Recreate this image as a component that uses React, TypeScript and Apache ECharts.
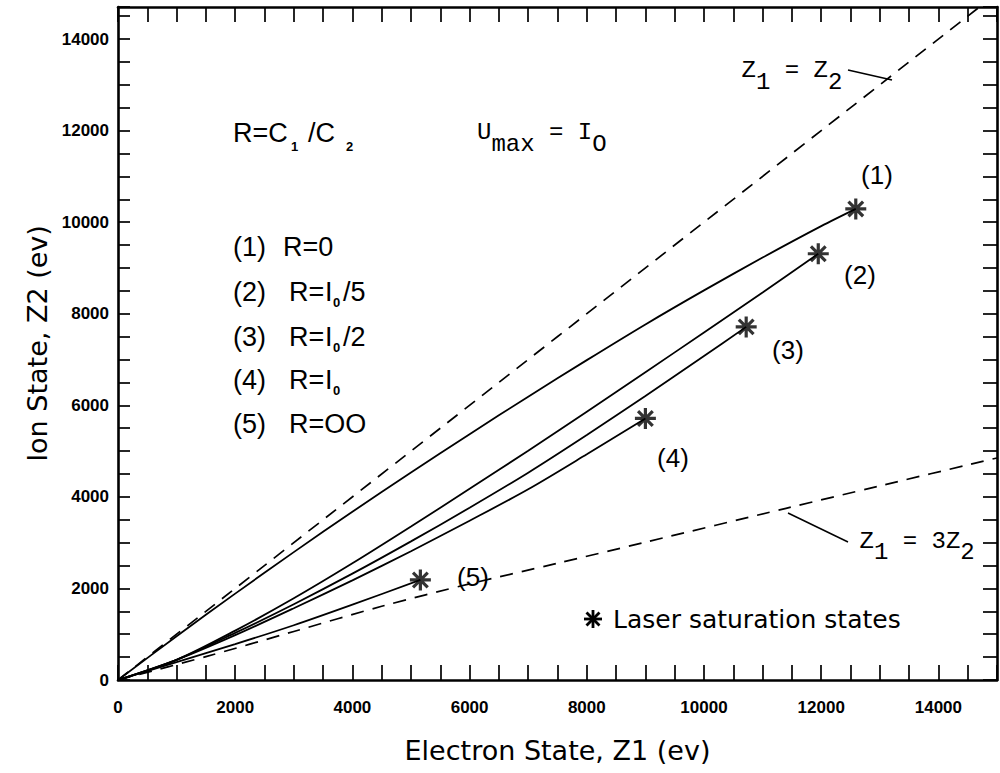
import React, { useEffect, useRef } from "react";
import * as echarts from "echarts";

// ---------- data ----------
const X_MAX = 15000;
const Y_MAX = 14700;
const TICK_STEP = 500;
const LABEL_STEP = 2000;

// Z1 = Z2 reference line
const lineZ1eqZ2 = [
  [0, 0],
  [15000, 15000],
];
// Z1 = 3 Z2 reference curve (as drawn)
const lineZ1eq3Z2 = [
  [0, 0],
  [1500, 510],
  [3000, 1060],
  [4500, 1610],
  [6000, 2100],
  [7500, 2550],
  [9000, 3010],
  [11400, 3750],
  [13000, 4240],
  [15000, 4850],
];
// (1) R=0
const curve1 = [
  [0, 0], [1000, 956], [2000, 1887], [3000, 2793], [4000, 3675], [5000, 4533],
  [6000, 5370], [7000, 6189], [8000, 6987], [9000, 7767], [10000, 8511],
  [11000, 9227], [12000, 9913], [12590, 10290],
];
// (2) R=I0/5
const curve2 = [
  [0, 0], [1000, 441], [2000, 1078], [3000, 1784], [4000, 2548], [5000, 3352],
  [6000, 4175], [7000, 5008], [8000, 5860], [9000, 6723], [10000, 7590],
  [11000, 8462], [11950, 9310],
];
// (3) R=I0/2
const curve3 = [
  [0, 0], [1000, 441], [2000, 1029], [3000, 1656], [4000, 2323], [5000, 3028],
  [6000, 3763], [7000, 4528], [8000, 5351], [9000, 6203], [10000, 7076],
  [10720, 7713],
];
// (4) R=I0
const curve4 = [
  [0, 0], [1000, 441], [2000, 980], [3000, 1568], [4000, 2176], [5000, 2813],
  [6000, 3479], [7000, 4165], [8000, 4929], [9000, 5713],
];
// (5) R=OO
const curve5 = [
  [0, 0], [1000, 392], [2000, 784], [3000, 1196], [4000, 1646], [5160, 2185],
];
// laser saturation states (end points)
const saturationStates = [
  [12590, 10290],
  [11950, 9310],
  [10720, 7713],
  [9000, 5713],
  [5160, 2185],
];
const curveTags = ["(1)", "(2)", "(3)", "(4)", "(5)"];
const legendRatios = ["R=0", "R=", "R=", "R=", "R=OO"];
const legendI = ["", "I", "I", "I", ""];
const legendSubs = ["", "0", "0", "0", ""];
const legendTails = ["", "/5", "/2", "", ""];
const xAxisTitle = "Electron State, Z1 (ev)";
const yAxisTitle = "Ion State, Z2 (ev)";
const legendText = "Laser saturation states";

// ---------- styles ----------
const SANS = '"Liberation Sans", Arial, sans-serif';
const DEJAVU = '"DejaVu Sans", sans-serif';
const MONO = '"Liberation Mono", "DejaVu Sans Mono", monospace';
const BLACK = "#000";

function txt(x: number, y: number, text: string, o: any = {}) {
  const align = o.align || "left";
  return {
    type: "text",
    x,
    y,
    silent: true,
    style: {
      text,
      fill: BLACK,
      fontFamily: o.family || SANS,
      fontSize: o.size || 27,
      fontWeight: o.weight || "normal",
      align,
      textAlign: align,
      verticalAlign: "middle",
      textVerticalAlign: "middle",
    },
  };
}

function star(cx: number, cy: number, r: number) {
  const d = r * 0.72;
  const ls = { stroke: BLACK, lineWidth: 2.8 };
  return {
    type: "group",
    silent: true,
    children: [
      { type: "line", shape: { x1: cx, y1: cy - r, x2: cx, y2: cy + r }, style: ls },
      { type: "line", shape: { x1: cx - r, y1: cy, x2: cx + r, y2: cy }, style: ls },
      { type: "line", shape: { x1: cx - d, y1: cy - d, x2: cx + d, y2: cy + d }, style: ls },
      { type: "line", shape: { x1: cx - d, y1: cy + d, x2: cx + d, y2: cy - d }, style: ls },
    ],
  };
}

// monospaced label with some characters lowered (subscripts)
function monoLabel(startX: number, y: number, chars: string[], lowered: boolean[], adv: number, drop: number) {
  const out: any[] = [];
  chars.forEach((c, i) => {
    if (c === " ") return;
    out.push(
      txt(startX + (i + 0.5) * adv, lowered[i] ? y + drop : y, c, {
        family: MONO,
        size: 24,
        align: "center",
      })
    );
  });
  return out;
}

export default function App() {
  const ref = useRef<HTMLDivElement>(null);

  useEffect(() => {
    if (!ref.current) return;
    const chart = echarts.init(ref.current, undefined, { renderer: "svg" });

    const labelFmt = (v: number) => (v % LABEL_STEP === 0 ? String(v) : "");
    const axisLine = { show: true, onZero: false, lineStyle: { color: BLACK, width: 2.6 } };
    const tickStyle = { color: BLACK, width: 1.7 };
    const axisLabel = {
      color: BLACK,
      fontFamily: SANS,
      fontWeight: "bold",
      fontSize: 17,
      formatter: labelFmt,
    };
    const nameStyle = { color: BLACK, fontFamily: DEJAVU, fontSize: 27 };

    const solid = (data: number[][]) => ({
      type: "line",
      data,
      showSymbol: false,
      smooth: 0.3,
      lineStyle: { color: BLACK, width: 1.8 },
      z: 3,
    });
    const dashed = (data: number[][]) => ({
      type: "line",
      data,
      showSymbol: false,
      smooth: 0.3,
      clip: true,
      lineStyle: { color: BLACK, width: 1.7, type: [13, 9] },
      z: 2,
    });

    const graphics: any[] = [];
    // R=C1/C2
    graphics.push(txt(233, 133, "R=C"));
    graphics.push(txt(291, 146, "1", { size: 13, weight: "bold" }));
    graphics.push(txt(308, 133, "/C"));
    graphics.push(txt(346, 146, "2", { size: 13, weight: "bold" }));
    // Umax = Io
    graphics.push(
      ...monoLabel(477, 132, ["U", "m", "a", "x", " ", "=", " ", "I", "O"],
        [false, true, true, true, false, false, false, false, true], 14.4, 12)
    );
    // legend list
    const legendY = [247, 292, 337, 380, 424];
    legendY.forEach((y, i) => {
      graphics.push(txt(233, y, curveTags[i]));
      graphics.push(txt(i === 0 ? 283 : 289, y, legendRatios[i]));
      if (legendI[i]) graphics.push(txt(325, y, legendI[i]));
      if (legendSubs[i]) graphics.push(txt(333, y + 10, legendSubs[i], { size: 13, weight: "bold" }));
      if (legendTails[i]) graphics.push(txt(343, y, legendTails[i]));
    });
    // curve tags
    const tagPos = [
      [877, 175],
      [860, 275],
      [788, 350],
      [673, 458],
      [473, 577],
    ];
    tagPos.forEach((p, i) => graphics.push(txt(p[0], p[1], curveTags[i], { align: "center", size: 26 })));
    // Z1 = Z2
    graphics.push(
      ...monoLabel(792 - 3.5 * 14.4, 70, ["Z", "1", " ", "=", " ", "Z", "2"],
        [false, true, false, false, false, false, true], 14.4, 12)
    );
    graphics.push({ type: "line", silent: true, shape: { x1: 848, y1: 70, x2: 892, y2: 80 }, style: { stroke: BLACK, lineWidth: 1.5 } });
    // Z1 = 3Z2
    graphics.push(
      ...monoLabel(859.5, 541, ["Z", "1", " ", "=", " ", "3", "Z", "2"],
        [false, true, false, false, false, false, false, true], 14.4, 11)
    );
    graphics.push({ type: "line", silent: true, shape: { x1: 788, y1: 513, x2: 848, y2: 542 }, style: { stroke: BLACK, lineWidth: 1.5 } });
    // legend star
    graphics.push(star(593, 619, 9));
    graphics.push(txt(613, 619, legendText, { size: 25, family: DEJAVU }));

    chart.setOption({
      animation: false,
      backgroundColor: "#fff",
      grid: { left: 118, top: 7, width: 887, height: 673, containLabel: false },
      xAxis: [
        {
          type: "value",
          min: 0,
          max: X_MAX,
          interval: TICK_STEP,
          position: "bottom",
          axisLine,
          axisTick: { show: true, inside: true, length: 15, lineStyle: tickStyle },
          axisLabel: { ...axisLabel, margin: 19 },
          splitLine: { show: false },
          name: xAxisTitle,
          nameLocation: "middle",
          nameGap: 57,
          nameTextStyle: nameStyle,
        },
        {
          type: "value",
          min: 0,
          max: X_MAX,
          interval: TICK_STEP,
          position: "top",
          axisLine,
          axisTick: { show: true, inside: true, length: 15, lineStyle: tickStyle },
          axisLabel: { show: false },
          splitLine: { show: false },
        },
      ],
      yAxis: [
        {
          type: "value",
          min: 0,
          max: Y_MAX,
          interval: TICK_STEP,
          position: "left",
          axisLine,
          axisTick: { show: true, inside: true, length: 12, lineStyle: tickStyle },
          axisLabel: { ...axisLabel, margin: 9 },
          splitLine: { show: false },
          name: yAxisTitle,
          nameLocation: "middle",
          nameGap: 50,
          nameRotate: 90,
          nameTextStyle: nameStyle,
        },
        {
          type: "value",
          min: 0,
          max: Y_MAX,
          interval: TICK_STEP,
          position: "right",
          axisLine,
          axisTick: { show: true, inside: true, length: 14, lineStyle: tickStyle },
          axisLabel: { show: false },
          splitLine: { show: false },
        },
      ],
      series: [
        dashed(lineZ1eqZ2),
        dashed(lineZ1eq3Z2),
        solid(curve1),
        solid(curve2),
        solid(curve3),
        solid(curve4),
        solid(curve5),
        {
          type: "scatter",
          data: saturationStates,
          symbol: "path://M10,0L10,20M0,10L20,10M3,3L17,17M3,17L17,3",
          symbolSize: 21,
          itemStyle: { color: "transparent", borderColor: BLACK, borderWidth: 3.2 },
          z: 5,
        },
      ],
      graphic: graphics,
    });

    return () => chart.dispose();
  }, []);

  return (
    <div
      ref={ref}
      style={{ position: "absolute", left: 0, top: 0, width: 1000, height: 773, background: "#fff" }}
    />
  );
}
